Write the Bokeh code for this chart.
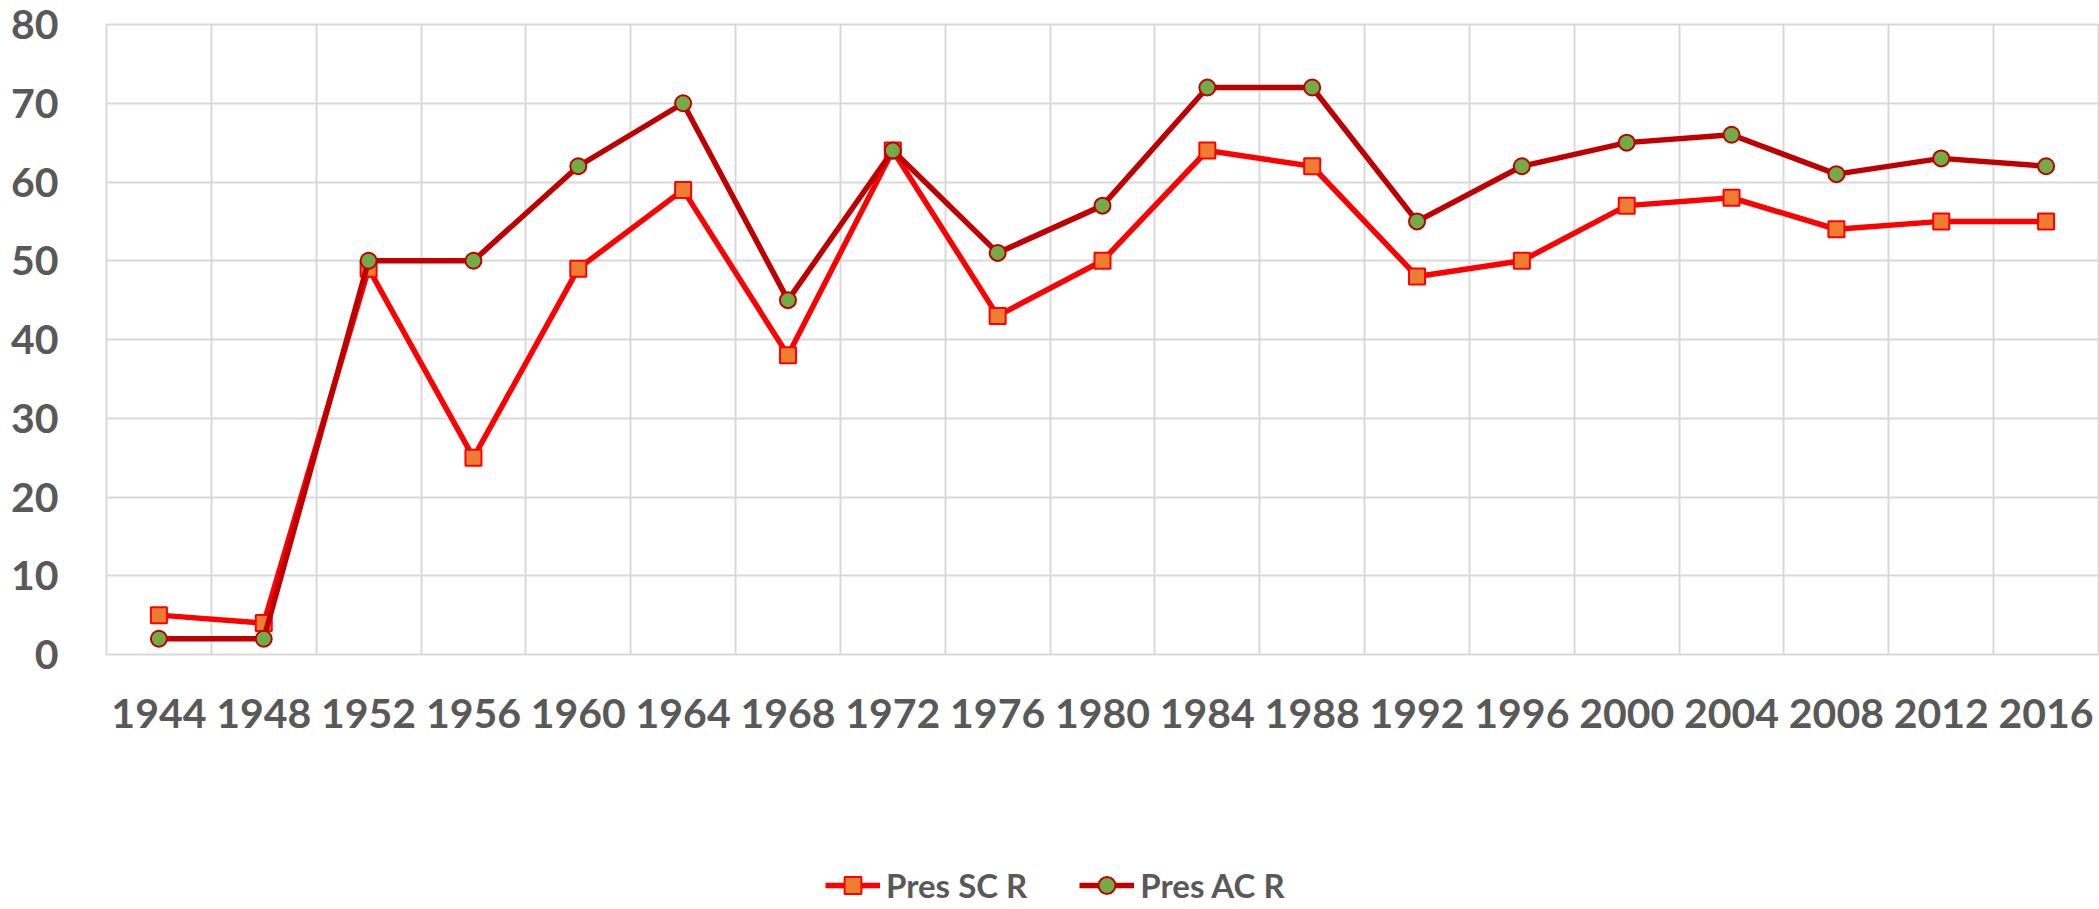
from bokeh.plotting import figure
from bokeh.layouts import column
from bokeh.models import Range1d, FixedTicker, Legend, LegendItem
from bokeh.embed import file_html
from bokeh.resources import INLINE

years = [1944, 1948, 1952, 1956, 1960, 1964, 1968, 1972, 1976, 1980,
         1984, 1988, 1992, 1996, 2000, 2004, 2008, 2012, 2016]
pres_sc_r = [5, 4, 49, 25, 49, 59, 38, 64, 43, 50, 64, 62, 48, 50, 57, 58, 54, 55, 55]
pres_ac_r = [2, 2, 50, 50, 62, 70, 45, 64, 51, 57, 72, 72, 55, 62, 65, 66, 61, 63, 62]
y_ticks = [0, 10, 20, 30, 40, 50, 60, 70, 80]
series_names = ["Pres SC R", "Pres AC R"]

TXT = "#595959"
GRID = "#D9D9D9"
SC_LINE, SC_FILL = "#FF0000", "#ED7D31"
AC_LINE, AC_FILL = "#C00000", "#70AD47"

half = (years[1] - years[0]) / 2
p = figure(width=2099, height=800,
           x_range=Range1d(years[0] - half, years[-1] + half),
           y_range=Range1d(y_ticks[0], y_ticks[-1]),
           output_backend="svg", toolbar_location=None,
           min_border_left=106, min_border_right=1,
           min_border_top=24, min_border_bottom=146)

p.xaxis.ticker = FixedTicker(ticks=years)
p.xgrid.ticker = FixedTicker(ticks=[y - half for y in years] + [years[-1] + half])
p.yaxis.ticker = FixedTicker(ticks=y_ticks)
p.ygrid.ticker = FixedTicker(ticks=y_ticks)

for ax in (p.xaxis[0], p.yaxis[0]):
    ax.axis_line_color = None
    ax.major_tick_line_color = None
    ax.minor_tick_line_color = None
    ax.major_tick_out = 0
    ax.major_tick_in = 0
    ax.minor_tick_out = 0
    ax.minor_tick_in = 0
    ax.major_label_text_color = TXT
    ax.major_label_text_font = "Lato"
    ax.major_label_text_font_style = "bold"
    ax.major_label_text_font_size = "41px"
p.xaxis.major_label_standoff = 44
p.yaxis.major_label_standoff = 48

p.xgrid.grid_line_color = GRID
p.ygrid.grid_line_color = GRID
p.xgrid.grid_line_width = 2
p.ygrid.grid_line_width = 2
p.outline_line_color = GRID
p.outline_line_width = 2

p.line(years, pres_sc_r, line_color=SC_LINE, line_width=5.5)
p.scatter(years, pres_sc_r, marker="square", size=16,
          fill_color=SC_FILL, line_color=SC_LINE, line_width=2)
p.line(years, pres_ac_r, line_color=AC_LINE, line_width=5.5)
p.scatter(years, pres_ac_r, marker="circle", size=16,
          fill_color=AC_FILL, line_color=AC_LINE, line_width=2)

# legend strip below the chart (its renderers hold the series but lie outside its view)
lf = figure(width=2099, height=109, x_axis_type=None, y_axis_type=None,
            x_range=Range1d(0, 1), y_range=Range1d(-1, 0),
            output_backend="svg", toolbar_location=None,
            min_border=0, outline_line_color=None)
lf.grid.visible = False
r1 = lf.line(years, pres_sc_r, line_color=SC_LINE, line_width=5.5)
m1 = lf.scatter(years, pres_sc_r, marker="square", size=16, fill_color=SC_FILL,
                line_color=SC_LINE, line_width=2)
r2 = lf.line(years, pres_ac_r, line_color=AC_LINE, line_width=5.5)
m2 = lf.scatter(years, pres_ac_r, marker="circle", size=16, fill_color=AC_FILL,
                line_color=AC_LINE, line_width=2)
legend = Legend(items=[LegendItem(label=series_names[0], renderers=[r1, m1]),
                       LegendItem(label=series_names[1], renderers=[r2, m2])],
                location=(719, 3), orientation="horizontal",
                glyph_width=55, glyph_height=42, label_standoff=6, spacing=52,
                padding=0, margin=0, border_line_color=None,
                background_fill_alpha=0,
                label_text_font="Lato", label_text_font_style="bold",
                label_text_font_size="33px", label_text_color=TXT)
lf.add_layout(legend, "center")

open("out.html", "w").write(file_html(column(p, lf, spacing=0), INLINE))
